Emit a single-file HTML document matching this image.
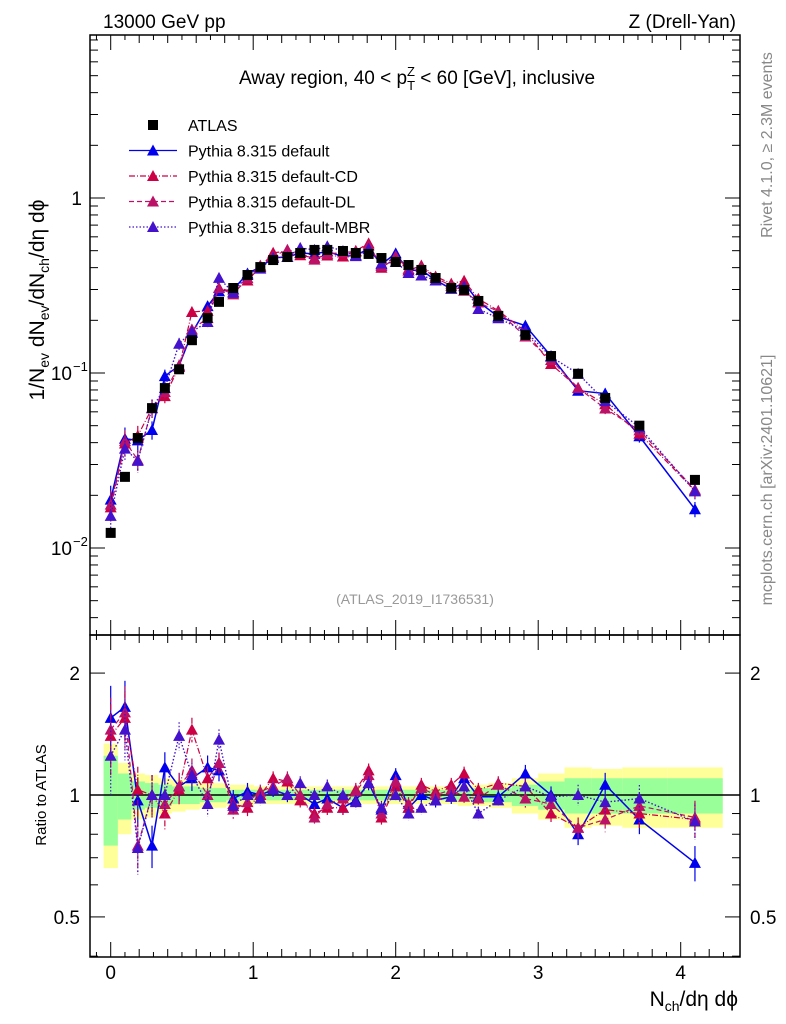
<!DOCTYPE html>
<html><head><meta charset="utf-8"><style>
html,body{margin:0;padding:0;background:#fff;}
svg{display:block;font-family:"Liberation Sans",sans-serif;}
</style></head><body>
<svg id="chart" width="786" height="1024" viewBox="0 0 786 1024" xmlns="http://www.w3.org/2000/svg">
<text x="103" y="28" font-size="19">13000 GeV pp</text>
<text x="736" y="28" font-size="19" text-anchor="end">Z (Drell-Yan)</text>
<text x="417" y="84" font-size="19" text-anchor="middle">Away region, 40 &lt; p<tspan font-size="13" dy="6">T</tspan><tspan font-size="13" dx="-8" dy="-14">Z</tspan><tspan dy="8"> &lt; 60 [GeV], inclusive</tspan></text>
<text x="415" y="604" font-size="14" fill="#999" text-anchor="middle">(ATLAS_2019_I1736531)</text>
<text transform="translate(772,145) rotate(-90)" font-size="16" fill="#888" text-anchor="middle">Rivet 4.1.0, ≥ 2.3M events</text>
<text transform="translate(772,480) rotate(-90)" font-size="16" fill="#888" text-anchor="middle">mcplots.cern.ch [arXiv:2401.10621]</text>
<text transform="translate(44,300) rotate(-90)" font-size="21" text-anchor="middle">1/N<tspan font-size="14" dy="5">ev</tspan><tspan dy="-5"> dN</tspan><tspan font-size="14" dy="5">ev</tspan><tspan dy="-5">/dN</tspan><tspan font-size="14" dy="5">ch</tspan><tspan dy="-5">/dη dϕ</tspan></text>
<text transform="translate(46,795) rotate(-90)" font-size="15" text-anchor="middle">Ratio to ATLAS</text>
<text x="738" y="1006" font-size="21" text-anchor="end">N<tspan font-size="14" dy="5">ch</tspan><tspan dy="-5">/dη dϕ</tspan></text>
<g id="g"></g>
</svg>
<script>
const xs=[0,0.1,0.19,0.29,0.38,0.48,0.57,0.68,0.76,0.86,0.96,1.05,1.14,1.24,1.33,1.43,1.52,1.63,1.72,1.81,1.9,2.0,2.09,2.18,2.28,2.39,2.48,2.58,2.72,2.91,3.09,3.28,3.47,3.71,4.1];
const atlas=[0.0122,0.0255,0.0425,0.063,0.082,0.105,0.154,0.206,0.255,0.306,0.363,0.403,0.442,0.46,0.485,0.505,0.505,0.498,0.485,0.479,0.454,0.431,0.414,0.388,0.349,0.306,0.298,0.258,0.212,0.165,0.125,0.099,0.072,0.05,0.0245];
const rDefault=[1.55,1.65,0.97,0.75,1.17,1.05,1.1,1.17,1.15,0.98,1.02,1.0,1.03,1.0,1.0,0.95,0.98,0.93,0.97,1.07,0.92,1.12,0.93,1.0,0.97,0.99,1.1,0.99,0.99,1.13,1.0,0.8,1.06,0.87,0.68];
const rCD=[1.4,1.55,1.03,1.0,0.9,1.03,1.45,1.1,1.2,0.95,0.93,1.0,1.1,1.08,0.97,0.9,0.93,0.93,1.03,1.15,0.88,1.05,0.93,1.06,1.02,1.06,1.13,1.03,1.07,1.05,0.9,0.83,0.92,0.9,0.87];
const rDL=[1.45,1.6,0.75,1.0,0.95,1.05,1.15,1.0,1.2,0.92,0.96,1.02,1.05,1.1,1.0,0.88,0.95,0.98,1.02,1.12,0.9,1.08,0.95,1.04,1.0,1.03,0.99,0.98,1.06,0.98,0.95,0.83,0.87,0.94,0.88];
const rMBR=[1.25,1.45,0.74,1.0,1.0,1.4,1.12,0.95,1.37,0.94,1.0,0.98,1.03,1.0,1.07,1.0,1.05,1.0,0.96,1.07,0.93,1.0,0.9,0.93,0.97,0.99,1.05,0.9,0.97,1.05,0.99,1.0,0.96,0.98,0.86];
const mcErr=[0.2,0.16,0.14,0.12,0.09,0.08,0.07,0.07,0.06,0.05,0.05,0.04,0.04,0.04,0.04,0.04,0.04,0.04,0.04,0.04,0.04,0.04,0.04,0.04,0.04,0.04,0.04,0.04,0.04,0.05,0.05,0.06,0.07,0.08,0.1];
const bandTot=[0.34,0.2,0.13,0.12,0.1,0.09,0.08,0.07,0.07,0.06,0.06,0.05,0.05,0.05,0.05,0.05,0.05,0.05,0.05,0.05,0.05,0.05,0.05,0.05,0.05,0.05,0.06,0.06,0.07,0.1,0.13,0.17,0.16,0.17,0.17];
const bandStat=[0.25,0.13,0.08,0.07,0.06,0.05,0.05,0.04,0.04,0.03,0.03,0.03,0.03,0.03,0.03,0.03,0.03,0.03,0.03,0.03,0.03,0.03,0.03,0.03,0.03,0.03,0.03,0.04,0.04,0.06,0.08,0.1,0.1,0.1,0.1];
const ratioTicks=[0.5,1,2];
const ratioTickLabels=["0.5","1","2"];

const NS="http://www.w3.org/2000/svg";
const G=document.getElementById('g');
const L=90,R=740,T=35,MB=635,RB=957;
const X=v=>110.7+v*142.5;
const Y=v=>198-175*Math.log10(v);
const YR=v=>795-405*Math.log10(v);
function el(tag,attrs,parent){const e=document.createElementNS(NS,tag);for(const k in attrs)e.setAttribute(k,attrs[k]);(parent||G).appendChild(e);return e;}

const edges=[];
for(let i=0;i<=xs.length;i++){
  if(i==0)edges.push(xs[0]-(xs[1]-xs[0])/2);
  else if(i==xs.length)edges.push(xs[i-1]+(xs[i-1]-xs[i-2])/2);
  else edges.push((xs[i-1]+xs[i])/2);
}
const bands=el('g',{});


xs.forEach((x,i)=>{
  const r=el('rect',{x:X(edges[i]),width:X(edges[i+1])-X(edges[i]),y:YR(1+bandTot[i]),height:YR(1-bandTot[i])-YR(1+bandTot[i]),fill:'#ffff99'},bands);
  
  
});
xs.forEach((x,i)=>{
  const r=el('rect',{x:X(edges[i]),width:X(edges[i+1])-X(edges[i]),y:YR(1+bandStat[i]),height:YR(1-bandStat[i])-YR(1+bandStat[i]),fill:'#99ff99'},bands);
  
  
});
const one=el('line',{x1:L,x2:R,y1:YR(1),y2:YR(1),stroke:'#000','stroke-width':1.5});



const series=[
 {name:'default',r:rDefault,c:'#0000ee',dash:'',w:1.5},
 {name:'default-cd',r:rCD,c:'#cc0044',dash:'6,2,1,2',w:1.2},
 {name:'default-dl',r:rDL,c:'#bb1166',dash:'5,3',w:1.2},
 {name:'default-mbr',r:rMBR,c:'#4411cc',dash:'1.5,2',w:1.4},
];
function tri(x,y,c,parent,nm){
  const p=el('path',{d:`M${x},${y-6}L${x+6},${y+5}L${x-6},${y+5}Z`,fill:c},parent);
  
  
}
const defs=el('defs',{});
const c1=el('clipPath',{id:'cm'},defs);el('rect',{x:L,y:T,width:R-L,height:MB-T},c1);
const c2=el('clipPath',{id:'cr'},defs);el('rect',{x:L,y:MB,width:R-L,height:RB-MB},c2);

series.forEach(s=>{
  const gm=el('g',{'clip-path':'url(#cm)'});
  
  
  const gr=el('g',{'clip-path':'url(#cr)'});
  
  
  const mv=xs.map((x,i)=>atlas[i]*s.r[i]);
  el('polyline',{points:xs.map((x,i)=>X(x)+','+Y(mv[i])).join(' '),fill:'none',stroke:s.c,'stroke-width':s.w,'stroke-dasharray':s.dash},gm);
  el('polyline',{points:xs.map((x,i)=>X(x)+','+YR(s.r[i])).join(' '),fill:'none',stroke:s.c,'stroke-width':s.w,'stroke-dasharray':s.dash},gr);
  xs.forEach((x,i)=>{
    const e=mcErr[i];
    el('line',{x1:X(x),x2:X(x),y1:Y(mv[i]*(1+e)),y2:Y(mv[i]*(1-e)),stroke:s.c,'stroke-width':1.2,'stroke-dasharray':s.dash},gm);
    el('line',{x1:X(x),x2:X(x),y1:YR(s.r[i]*(1+e)),y2:YR(s.r[i]*(1-e)),stroke:s.c,'stroke-width':1.2,'stroke-dasharray':s.dash},gr);
    tri(X(x),Y(mv[i]),s.c,gm,'point-'+s.name);
    tri(X(x),YR(s.r[i]),s.c,gr,'ratio-point-'+s.name);
  });
});
const ga=el('g',{'clip-path':'url(#cm)'});


xs.forEach((x,i)=>{
  const r=el('rect',{x:X(x)-5,y:Y(atlas[i])-5,width:10,height:10,fill:'#000'},ga);
  
  
});

const f1=el('rect',{x:L,y:T,width:R-L,height:MB-T,fill:'none',stroke:'#000','stroke-width':1.5});


const f2=el('rect',{x:L,y:MB,width:R-L,height:RB-MB,fill:'none',stroke:'#000','stroke-width':1.5});



const ticks=el('g',{stroke:'#000','stroke-width':1});


for(let k=-1;k<=43;k++){
  const v=k/10,px=X(v);if(px<L||px>R)continue;
  const len=k%10==0?15:(k%2==0?8:5);
  [T,MB].forEach(y0=>el('line',{x1:px,x2:px,y1:y0,y2:y0+len},ticks));
  [MB,RB].forEach(y0=>el('line',{x1:px,x2:px,y1:y0,y2:y0-len},ticks));
}
for(let k=0;k<=4;k++){
  const t=el('text',{x:X(k),y:979,'font-size':19,'text-anchor':'middle',stroke:'none'});
  t.textContent=String(k);
  
  
}
for(let d=-3;d<=0;d++)for(let m=1;m<=9;m++){
  const v=m*Math.pow(10,d),py=Y(v);if(py<T||py>MB)continue;
  const len=m==1?15:8;
  el('line',{x1:L,x2:L+len,y1:py,y2:py},ticks);
  el('line',{x1:R,x2:R-len,y1:py,y2:py},ticks);
}
const ylabs=[[1,'1'],[0.1,'10'],[0.01,'10']];
ylabs.forEach(([v,s],i)=>{
  const t=el('text',{x:i==0?82:72,y:Y(v)+7,'font-size':19,'text-anchor':'end'});
  t.textContent=s;
  
  
  if(i>0){const sp=el('text',{x:73,y:Y(v)-2,'font-size':13});sp.textContent=i==1?'−1':'−2';
    
    }
});
for(let d=-1;d<=0;d++)for(let m=1;m<=9;m++){
  const v=m*Math.pow(10,d),py=YR(v);if(py<MB||py>RB)continue;
  const len=(v==0.5||v==1||v==2)?15:8;
  el('line',{x1:L,x2:L+len,y1:py,y2:py},ticks);
  el('line',{x1:R,x2:R-len,y1:py,y2:py},ticks);
}
ratioTicks.forEach((v,i)=>{
  const t=el('text',{x:80,y:YR(v)+7,'font-size':19,'text-anchor':'end'});
  t.textContent=ratioTickLabels[i];
  
  
  const t2=el('text',{x:750,y:YR(v)+7,'font-size':19});
  t2.textContent=ratioTickLabels[i];
  
  
});

const lg=el('g',{});


const ents=[['ATLAS',null],['Pythia 8.315 default',series[0]],['Pythia 8.315 default-CD',series[1]],['Pythia 8.315 default-DL',series[2]],['Pythia 8.315 default-MBR',series[3]]];
ents.forEach(([lab,s],i)=>{
  const y=125+i*25.5;
  const eg=el('g',{},lg);
  
  
  if(!s){el('rect',{x:148,y:y-5,width:10,height:10,fill:'#000'},eg);}
  else{
    el('line',{x1:129,x2:177,y1:y,y2:y,stroke:s.c,'stroke-width':1.3,'stroke-dasharray':s.dash},eg);
    tri(153,y,s.c,eg,'legend-marker');
  }
  const t=el('text',{x:188,y:y+6,'font-size':16},eg);
  t.textContent=lab;
});
</script>
</body></html>
